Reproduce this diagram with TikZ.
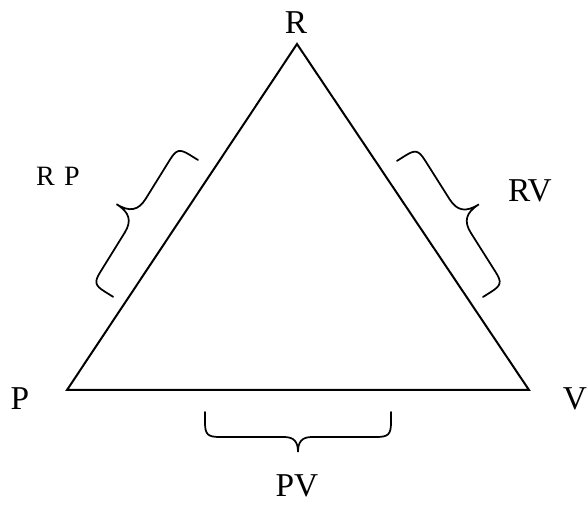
\documentclass[tikz,border=0pt]{standalone}
\usepackage{fontspec}
\setmainfont{Liberation Serif}
\tikzset{
  edge/.style={line width=1.5pt, line join=miter},
  bracestyle/.style={line width=1.3pt, line cap=round},
  biglabel/.style={font=\fontsize{25}{30}\selectfont, inner sep=0pt, anchor=base},
  smalllabel/.style={font=\fontsize{21}{25}\selectfont, inner sep=0pt, anchor=base}
}
% #1 start point, #2 rotation, #3 length, #4 straight offset, #5 tip offset, #6 tip arm length
\newcommand\mybrace[6]{%
  \pgfmathsetmacro\bh{#3/2}%
  \pgfmathsetmacro\bL{#3}%
  \draw[bracestyle, shift={(#1)}, rotate=#2]
    (0,0) -- (0,0.4*#4) .. controls (0,0.9*#4) and (0.1*#4,#4) .. (0.6*#4,#4)
    -- (\bh-#6,#4) .. controls (\bh-0.3*#6,#4) and (\bh,#4+0.3*#5-0.3*#4) .. (\bh,#5)
    .. controls (\bh,#4+0.3*#5-0.3*#4) and (\bh+0.3*#6,#4) .. (\bh+#6,#4)
    -- (\bL-0.6*#4,#4) .. controls (\bL-0.1*#4,#4) and (\bL,0.9*#4) .. (\bL,0.4*#4) -- (\bL,0);
}
\begin{document}
\begin{tikzpicture}[x=0.75pt,y=-0.75pt]
  \useasboundingbox (0,0) rectangle (587,506);
  \coordinate (r) at (297,44);
  \coordinate (p) at (67,390);
  \coordinate (v) at (529,390);
  \draw[edge] (r) -- (p) -- (v) -- cycle;
  \node[biglabel] (lr) at (296,34) {R};
  \node[biglabel] (lp) at (20,410) {P};
  \node[biglabel] (lv) at (575,410) {V};
  \node[biglabel] (lrv) at (530,202) {RV};
  \node[biglabel] (lpv) at (297,497) {PV};
  \node[smalllabel] (lrp) at (58,186) {R\,\,P};
  % braces
  \mybrace{198,160}{-121.8}{161}{24}{46}{20}
  \mybrace{483,297}{122.3}{161}{24}{46}{20}
  \mybrace{205,412}{0}{186}{25}{40}{14}
\end{tikzpicture}
\end{document}
